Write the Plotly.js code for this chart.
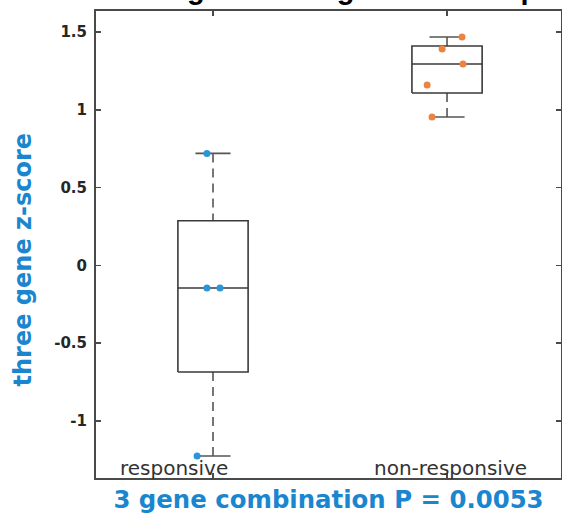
<!DOCTYPE html>
<html>
<head>
<meta charset="utf-8">
<script src="https://cdn.plot.ly/plotly-3.0.1.min.js"></script>
<style>
  html, body { margin: 0; padding: 0; background: #ffffff; }
  #chart { width: 562px; height: 514px; }
</style>
</head>
<body>
<div id="chart"></div>
<script>
// ---- data ----
const categories = ['responsive', 'non-responsive'];
const responsiveValues = [0.72, -0.145, -0.145, -1.225];
const nonResponsiveValues = [1.468, 1.391, 1.294, 1.159, 0.954];
// horizontal scatter offsets of the individual points (as seen in the picture)
const responsiveJitter = [-0.026, -0.026, 0.03, -0.068];
const nonResponsiveJitter = [0.064, -0.021, 0.068, -0.085, -0.064];
const yTickVals = [-1, -0.5, 0, 0.5, 1, 1.5];
const yTickText = ['-1', '-0.5', '0', '0.5', '1', '1.5'];
const chartTitle = 'Functional Testing Predicting Patient Response';
const yTitle = 'three gene z-score';
const xTitle = '3 gene combination P = 0.0053';

const groupValues = [responsiveValues, nonResponsiveValues];
const groupJitter = [responsiveJitter, nonResponsiveJitter];
const pointColors = ['#2b95d9', '#ea8440'];

// MATLAB-style percentile
function prctile(vals, p) {
  const s = vals.slice().sort((a, b) => a - b);
  const n = s.length;
  const r = p / 100 * n + 0.5;
  if (r <= 1) return s[0];
  if (r >= n) return s[n - 1];
  const lo = Math.floor(r);
  const f = r - lo;
  return s[lo - 1] + f * (s[lo] - s[lo - 1]);
}

const boxHalf = 0.15, capHalf = 0.075;
const boxColor = '#3a3a3a';
const traces = [];

groupValues.forEach((vals, gi) => {
  const pos = gi + 1;
  const q1 = prctile(vals, 25), med = prctile(vals, 50), q3 = prctile(vals, 75);
  const iqr = q3 - q1;
  const hiFence = q3 + 1.5 * iqr, loFence = q1 - 1.5 * iqr;
  const inside = vals.filter(v => v <= hiFence && v >= loFence);
  const wHi = Math.max(...inside), wLo = Math.min(...inside);
  // whiskers (dashed)
  traces.push({
    type: 'scatter', mode: 'lines', hoverinfo: 'skip', showlegend: false,
    x: [pos, pos, null, pos, pos], y: [wHi, q3, null, q1, wLo],
    line: { color: '#555555', width: 1.6, dash: '9px,6px' }
  });
  // caps
  traces.push({
    type: 'scatter', mode: 'lines', hoverinfo: 'skip', showlegend: false,
    x: [pos - capHalf, pos + capHalf, null, pos - capHalf, pos + capHalf],
    y: [wHi, wHi, null, wLo, wLo],
    line: { color: '#555555', width: 1.6 }
  });
  // box
  traces.push({
    type: 'scatter', mode: 'lines', hoverinfo: 'skip', showlegend: false,
    x: [pos - boxHalf, pos + boxHalf, pos + boxHalf, pos - boxHalf, pos - boxHalf],
    y: [q1, q1, q3, q3, q1],
    line: { color: boxColor, width: 1.6 }
  });
  // median
  traces.push({
    type: 'scatter', mode: 'lines', hoverinfo: 'skip', showlegend: false,
    x: [pos - boxHalf, pos + boxHalf], y: [med, med],
    line: { color: boxColor, width: 1.6 }
  });
});

// points on top
groupValues.forEach((vals, gi) => {
  traces.push({
    type: 'scatter', mode: 'markers', showlegend: false, name: categories[gi],
    x: vals.map((v, i) => gi + 1 + groupJitter[gi][i]), y: vals,
    marker: { color: pointColors[gi], size: 7 }
  });
});

const axisColor = '#4a4a4a';
const blue = '#1a86cf';
const layout = {
  width: 562, height: 514,
  margin: { l: 96, r: 1, t: 11, b: 36 },
  paper_bgcolor: '#ffffff', plot_bgcolor: '#ffffff',
  showlegend: false,
  xaxis: {
    range: [0.5, 2.487], tickvals: [1, 2], ticktext: categories, showticklabels: false,
    ticks: 'inside', ticklen: 5, tickwidth: 1.5, tickcolor: axisColor,
    showline: true, linecolor: axisColor, linewidth: 2, mirror: 'ticks',
    showgrid: false, zeroline: false,
    title: { text: xTitle, standoff: 12,
      font: { family: 'DejaVu Sans', size: 24.4, color: blue, weight: 'bold' } }
  },
  yaxis: {
    range: [-1.366, 1.635], tickvals: yTickVals, ticktext: yTickText,
    ticks: 'inside', ticklen: 5, tickwidth: 1.5, tickcolor: axisColor,
    ticklabelstandoff: 4,
    tickfont: { family: 'DejaVu Sans', size: 15, color: '#262626', weight: 'bold' },
    showline: true, linecolor: axisColor, linewidth: 2, mirror: 'ticks',
    showgrid: false, zeroline: false
  },
  annotations: [
    { text: yTitle, xref: 'paper', yref: 'paper', x: -0.158, y: 0.467, textangle: -90,
      xanchor: 'center', yanchor: 'middle', showarrow: false, borderpad: 0,
      font: { family: 'DejaVu Sans', size: 24, color: blue, weight: 'bold' } },
    { text: categories[0], xref: 'x', yref: 'paper', x: 0.833, y: 0, yanchor: 'bottom',
      xanchor: 'center', showarrow: false, borderpad: 0, yshift: -3,
      font: { family: 'DejaVu Sans', size: 20, color: '#333333' } },
    { text: categories[1], xref: 'x', yref: 'paper', x: 2.013, y: 0, yanchor: 'bottom',
      xanchor: 'center', showarrow: false, borderpad: 0, yshift: -3,
      font: { family: 'DejaVu Sans', size: 20, color: '#333333' } },
    { text: chartTitle, xref: 'paper', yref: 'paper', x: 0.39, y: 1, yanchor: 'bottom',
      xanchor: 'center', showarrow: false, borderpad: 0, yshift: 5,
      font: { family: 'Liberation Sans', size: 29, color: '#000000', weight: 'bold' } }
  ]
};

Plotly.newPlot('chart', traces, layout, { displayModeBar: false, staticPlot: true });
</script>
</body>
</html>
